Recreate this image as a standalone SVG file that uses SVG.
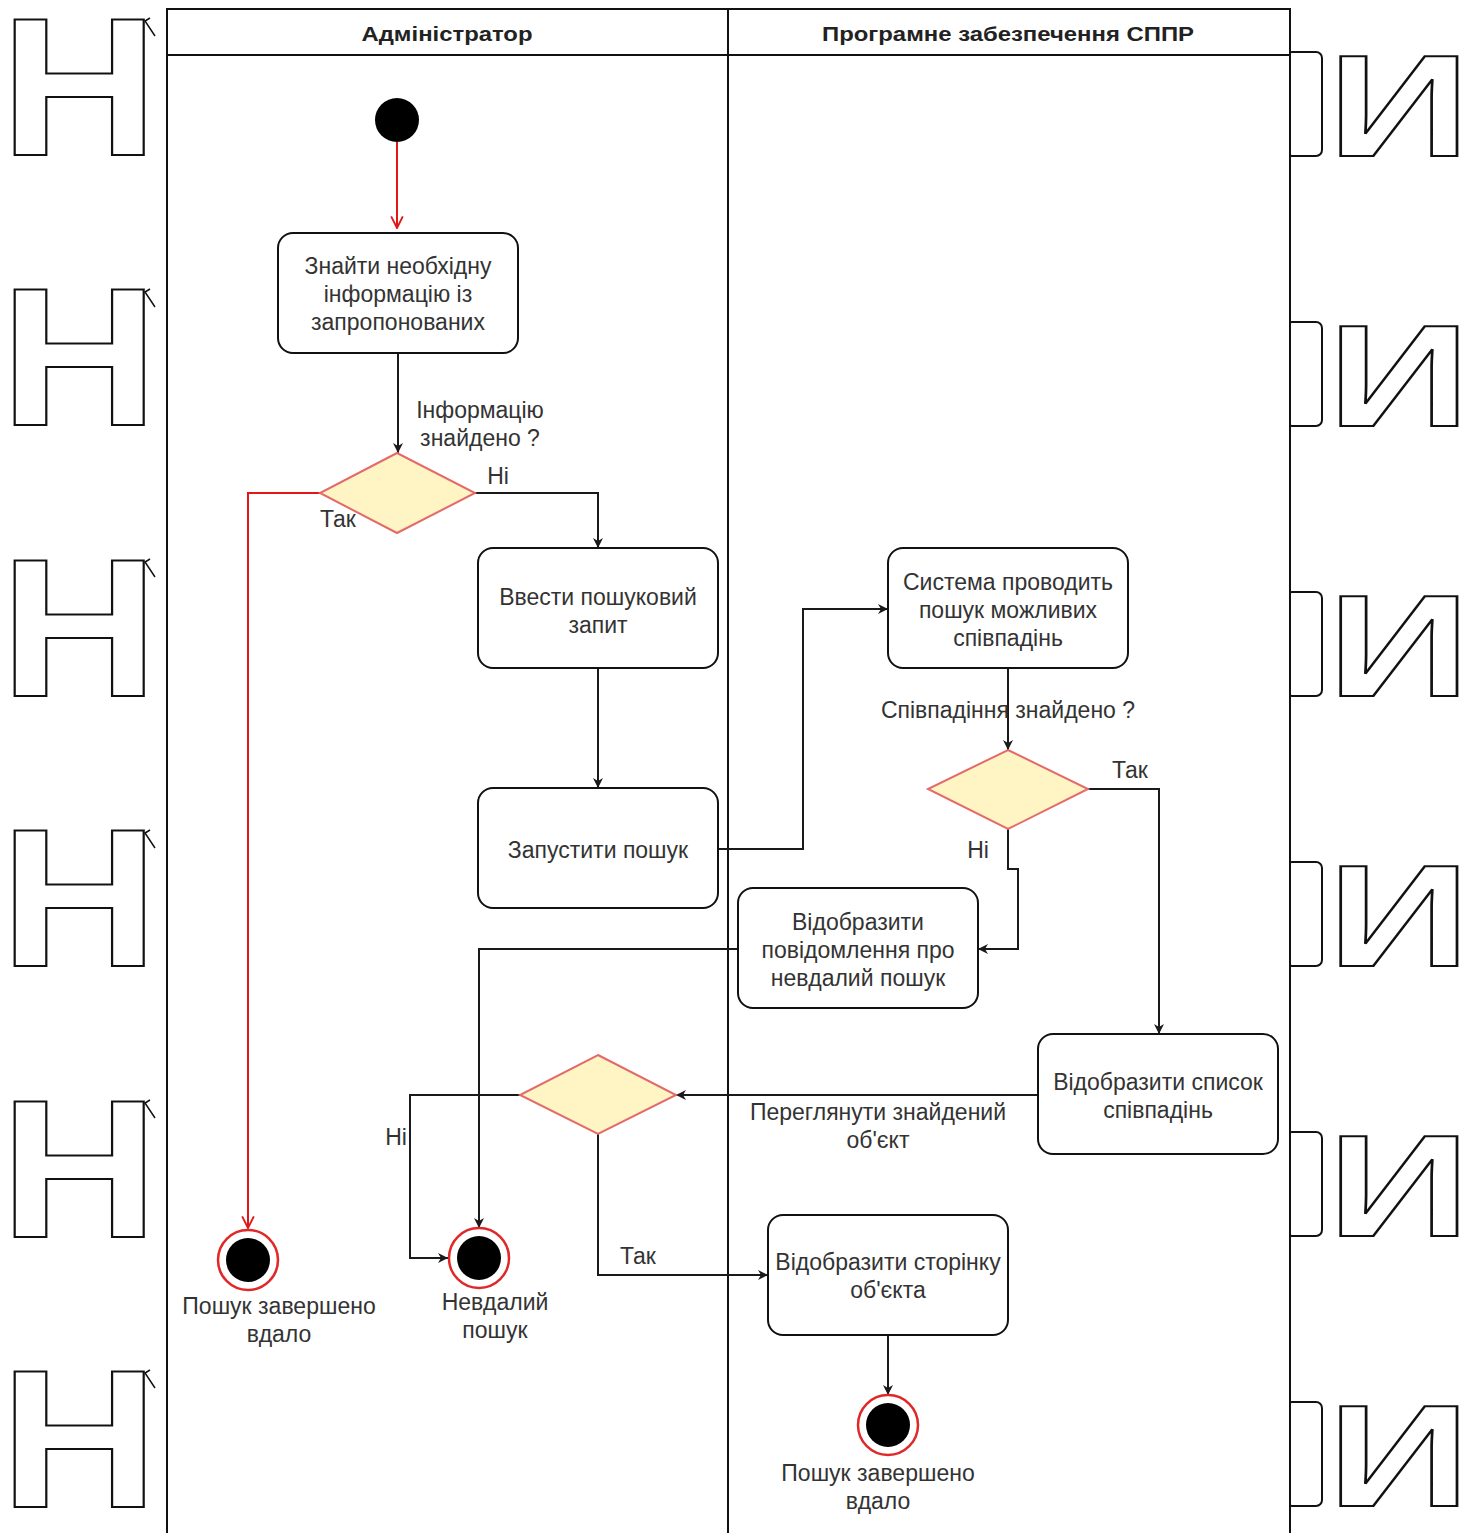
<svg xmlns="http://www.w3.org/2000/svg" width="1470" height="1533" viewBox="0 0 1470 1533">
  <style>
    .bg { fill: none; stroke: #111; stroke-width: 2; font-family: "Liberation Sans", Arial, sans-serif; font-weight: bold; }
    .stem { fill: none; stroke: #111; stroke-width: 2; }
    .lane { fill: #fff; stroke: #111; stroke-width: 2; }
    .hdr { font-family: "Liberation Sans", Arial, sans-serif; font-weight: bold; font-size: 21px; fill: #222; text-anchor: middle; }
    .act { fill: #fff; stroke: #111; stroke-width: 2; }
    .txt { font-family: "Liberation Sans", Arial, sans-serif; font-size: 23px; fill: #333; text-anchor: middle; }
    .dec { fill: #fff4c4; stroke: #e46a6a; stroke-width: 2; }
    .edge { fill: none; stroke: #1a1a1a; stroke-width: 2; }
    .red { fill: none; stroke: #e01818; stroke-width: 2; }
    .ring { fill: #fff; stroke: #e02828; stroke-width: 2.5; }
  </style>
  <defs>
    <marker id="arr" viewBox="0 0 10 10" refX="10" refY="5" markerWidth="10" markerHeight="10" markerUnits="userSpaceOnUse" orient="auto">
      <path d="M0,0 L10,5 L0,10 L3,5 z" fill="#1a1a1a"/>
    </marker>
    <marker id="arrRed" viewBox="0 0 12 12" refX="11" refY="6" markerWidth="14" markerHeight="14" markerUnits="userSpaceOnUse" orient="auto">
      <path d="M1,1 L11,6 L1,11" fill="none" stroke="#e01818" stroke-width="1.6"/>
    </marker>
  </defs>

  <!-- background lettering along the page edges -->
  <g id="edge-letters">
    <g id="left-letters">
      <text class="bg" font-size="196" transform="translate(0,155) scale(1.12,1)" x="0">Н</text>
      <text class="bg" font-size="196" transform="translate(0,425) scale(1.12,1)" x="0">Н</text>
      <text class="bg" font-size="196" transform="translate(0,696) scale(1.12,1)" x="0">Н</text>
      <text class="bg" font-size="196" transform="translate(0,966) scale(1.12,1)" x="0">Н</text>
      <text class="bg" font-size="196" transform="translate(0,1237) scale(1.12,1)" x="0">Н</text>
      <text class="bg" font-size="196" transform="translate(0,1507) scale(1.12,1)" x="0">Н</text>
      <path d="M150,18 L145,21 L155,36 M150,289 L145,292 L155,307 M150,559 L145,562 L155,577 M150,830 L145,833 L155,848 M150,1100 L145,1103 L155,1118 M150,1370 L145,1373 L155,1388" fill="none" stroke="#111" stroke-width="1.5"/>
    </g>
    <g id="right-letters">
      <text class="bg" font-size="145" transform="translate(1342,156) scale(1.37,1)" x="-10.6">И</text>
      <text class="bg" font-size="145" transform="translate(1342,426) scale(1.37,1)" x="-10.6">И</text>
      <text class="bg" font-size="145" transform="translate(1342,696) scale(1.37,1)" x="-10.6">И</text>
      <text class="bg" font-size="145" transform="translate(1342,966) scale(1.37,1)" x="-10.6">И</text>
      <text class="bg" font-size="145" transform="translate(1342,1236) scale(1.37,1)" x="-10.6">И</text>
      <text class="bg" font-size="145" transform="translate(1342,1506) scale(1.37,1)" x="-10.6">И</text>
      <rect class="stem" x="1286" y="52" width="36" height="104" rx="6"/>
      <rect class="stem" x="1286" y="322" width="36" height="104" rx="6"/>
      <rect class="stem" x="1286" y="592" width="36" height="104" rx="6"/>
      <rect class="stem" x="1286" y="862" width="36" height="104" rx="6"/>
      <rect class="stem" x="1286" y="1132" width="36" height="104" rx="6"/>
      <rect class="stem" x="1286" y="1402" width="36" height="104" rx="6"/>
    </g>
  </g>

  <!-- swimlane pool -->
  <g id="pool">
    <rect class="lane" x="167" y="9" width="1123" height="1530"/>
    <line x1="167" y1="55" x2="1290" y2="55" stroke="#111" stroke-width="2"/>
    <line x1="728" y1="9" x2="728" y2="1533" stroke="#111" stroke-width="2"/>
    <text class="hdr" x="447" y="41" textLength="171" lengthAdjust="spacingAndGlyphs">Адміністратор</text>
    <text class="hdr" x="1008" y="41" textLength="372" lengthAdjust="spacingAndGlyphs">Програмне забезпечення СППР</text>
  </g>

  <!-- connectors -->
  <g id="connectors">
    <path class="red" d="M397,142 L397,228" marker-end="url(#arrRed)"/>
    <path class="edge" d="M398,353 L398,453" marker-end="url(#arr)"/>
    <path class="edge" d="M475,493 L598,493 L598,548" marker-end="url(#arr)"/>
    <path class="red" d="M320,493 L248,493 L248,1228" marker-end="url(#arrRed)"/>
    <path class="edge" d="M598,668 L598,788" marker-end="url(#arr)"/>
    <path class="edge" d="M718,849 L803,849 L803,609 L888,609" marker-end="url(#arr)"/>
    <path class="edge" d="M1008,668 L1008,750" marker-end="url(#arr)"/>
    <path class="edge" d="M1088,789 L1159,789 L1159,1034" marker-end="url(#arr)"/>
    <path class="edge" d="M1008,829 L1008,869 L1018,869 L1018,949 L978,949" marker-end="url(#arr)"/>
    <path class="edge" d="M738,949 L479,949 L479,1228" stroke="#333" stroke-width="2.5" marker-end="url(#arr)"/>
    <path class="edge" d="M1038,1095 L676,1095" marker-end="url(#arr)"/>
    <path class="edge" d="M520,1095 L410,1095 L410,1258 L448,1258" marker-end="url(#arr)"/>
    <path class="edge" d="M598,1134 L598,1275 L768,1275" marker-end="url(#arr)"/>
    <path class="edge" d="M888,1335 L888,1395" marker-end="url(#arr)"/>
  </g>

  <!-- connector labels -->
  <g id="labels">
    <text class="txt" x="480" y="418">Інформацію</text>
    <text class="txt" x="480" y="446">знайдено ?</text>
    <text class="txt" x="498" y="484">Ні</text>
    <text class="txt" x="338" y="527">Так</text>
    <text class="txt" x="1008" y="718">Співпадіння знайдено ?</text>
    <text class="txt" x="1130" y="778">Так</text>
    <text class="txt" x="978" y="858">Ні</text>
    <text class="txt" x="878" y="1120">Переглянути знайдений</text>
    <text class="txt" x="878" y="1148">об'єкт</text>
    <text class="txt" x="396" y="1145">Ні</text>
    <text class="txt" x="638" y="1264">Так</text>
  </g>

  <!-- nodes -->
  <g id="start">
    <circle cx="397" cy="120" r="22" fill="#000"/>
  </g>
  <g id="find-info">
    <rect class="act" x="278" y="233" width="240" height="120" rx="15"/>
    <text class="txt" x="398" y="274">Знайти необхідну</text>
    <text class="txt" x="398" y="302">інформацію із</text>
    <text class="txt" x="398" y="330">запропонованих</text>
  </g>
  <g id="info-found">
    <polygon class="dec" points="397,453 475,493 397,533 320,493"/>
  </g>
  <g id="enter-query">
    <rect class="act" x="478" y="548" width="240" height="120" rx="15"/>
    <text class="txt" x="598" y="605">Ввести пошуковий</text>
    <text class="txt" x="598" y="633">запит</text>
  </g>
  <g id="run-search">
    <rect class="act" x="478" y="788" width="240" height="120" rx="15"/>
    <text class="txt" x="598" y="858">Запустити пошук</text>
  </g>
  <g id="system-search">
    <rect class="act" x="888" y="548" width="240" height="120" rx="15"/>
    <text class="txt" x="1008" y="590">Система проводить</text>
    <text class="txt" x="1008" y="618">пошук можливих</text>
    <text class="txt" x="1008" y="646">співпадінь</text>
  </g>
  <g id="matches-found">
    <polygon class="dec" points="1008,750 1088,789 1008,829 928,789"/>
  </g>
  <g id="show-failure">
    <rect class="act" x="738" y="888" width="240" height="120" rx="15"/>
    <text class="txt" x="858" y="930">Відобразити</text>
    <text class="txt" x="858" y="958">повідомлення про</text>
    <text class="txt" x="858" y="986">невдалий пошук</text>
  </g>
  <g id="show-list">
    <rect class="act" x="1038" y="1034" width="240" height="120" rx="15"/>
    <text class="txt" x="1158" y="1090">Відобразити список</text>
    <text class="txt" x="1158" y="1118">співпадінь</text>
  </g>
  <g id="view-object">
    <polygon class="dec" points="598,1055 676,1095 598,1134 520,1095"/>
  </g>
  <g id="show-page">
    <rect class="act" x="768" y="1215" width="240" height="120" rx="15"/>
    <text class="txt" x="888" y="1270">Відобразити сторінку</text>
    <text class="txt" x="888" y="1298">об'єкта</text>
  </g>
  <g id="end-success-1">
    <circle class="ring" cx="248" cy="1260" r="30"/>
    <circle cx="248" cy="1260" r="22" fill="#000"/>
    <text class="txt" x="279" y="1314">Пошук завершено</text>
    <text class="txt" x="279" y="1342">вдало</text>
  </g>
  <g id="end-failure">
    <circle class="ring" cx="479" cy="1258" r="30"/>
    <circle cx="479" cy="1258" r="22" fill="#000"/>
    <text class="txt" x="495" y="1310">Невдалий</text>
    <text class="txt" x="495" y="1338">пошук</text>
  </g>
  <g id="end-success-2">
    <circle class="ring" cx="888" cy="1425" r="30"/>
    <circle cx="888" cy="1425" r="22" fill="#000"/>
    <text class="txt" x="878" y="1481">Пошук завершено</text>
    <text class="txt" x="878" y="1509">вдало</text>
  </g>
</svg>
